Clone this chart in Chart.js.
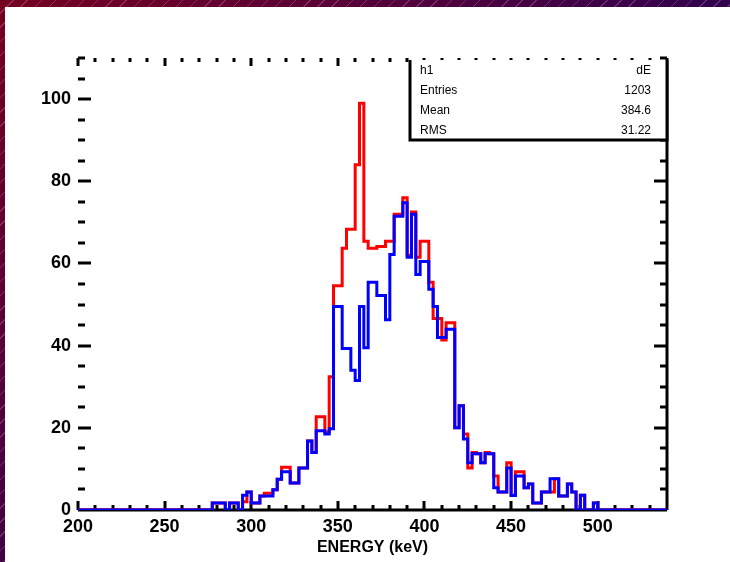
<!DOCTYPE html>
<html>
<head>
<meta charset="utf-8">
<script src="https://cdn.jsdelivr.net/npm/chart.js@4.4.1/dist/chart.umd.min.js"></script>
<style>
  body {
    margin: 0; width: 730px; height: 562px; overflow: hidden; position: relative;
    background:
      repeating-linear-gradient(135deg, rgba(0,0,0,0) 0 9px, rgba(230,140,200,0.3) 9px 10px),
      radial-gradient(circle at 0 0, #74001f 0, #580038 350px, #30004e 720px);
  }
  #frame { position: absolute; left: 5px; top: 7px; width: 725px; height: 555px; background: #fff; }
</style>
</head>
<body>
<div id="frame"><canvas id="histChart" width="725" height="555"></canvas></div>
<script>
    // 2.5-wide bins, left edges from binStart
    var binStart = 275;
    var binWidth = 2.5;
    var xRange = [200, 540];
    var yRange = [0, 110];

    var blueCounts = [
        0, 1.7, 1.7, 1.7, 0, 1.7, 1.7, 0, 3.6, 4.4,
        1.7, 1.7, 3.4, 3.4, 3.4, 4.9, 7.5, 9.3, 9.3, 6.6,
        6.6, 10.2, 10.2, 16.8, 14, 19.3, 19.3, 18.5, 19.8, 49.5,
        49.5, 39.3, 39.3, 34, 31.5, 49.5, 39.5, 55.4, 55.4, 52.2,
        52.2, 46.3, 62.2, 71.5, 71.5, 74.8, 61.5, 72, 57.3, 60.5,
        60.5, 53.7, 49.5, 42, 42, 44, 44, 20, 25.4, 17.3,
        11.5, 13.7, 13.7, 11.5, 13.7, 13.7, 5.4, 4.4, 4.4, 10.2,
        3.5, 8.3, 8.3, 5.4, 6.3, 1.7, 1.7, 4.4, 4.4, 7.6,
        7.6, 3.4, 3.4, 6.3, 4.4, 0, 3.6, 0, 0, 1.7
    ];
    var redCounts = [
        0, 1.7, 1.7, 1.7, 0, 1.7, 1.7, 0, 2.0, 4.4,
        1.7, 1.7, 3.4, 4.1, 4.1, 4.9, 7.5, 10.4, 10.4, 6.6,
        6.6, 10.2, 10.2, 16.8, 14, 22.7, 22.7, 19, 32.4, 54.6,
        54.6, 63.7, 68.3, 68.3, 84, 99, 65.4, 63.7, 63.7, 64.1,
        64.1, 65.4, 65.4, 72, 72, 76, 62, 72.5, 61.5, 65.4,
        65.4, 55.4, 46.6, 46.6, 41.4, 45.6, 45.6, 20, 25.4, 18.5,
        10.2, 14, 13.7, 11.5, 14, 13.7, 8.3, 4.4, 4.4, 11.5,
        3.6, 9.3, 9.3, 5.4, 6.3, 1.7, 1.7, 4.4, 4.4, 4.4,
        7.6, 3.4, 3.4, 6.3, 4.4, 0, 3.6, 0, 0, 1.7
    ];

    var statRows = [
        ['h1', 'dE'],
        ['Entries', '1203'],
        ['Mean', '384.6'],
        ['RMS', '31.22']
    ];

    var FONT = '"Liberation Sans", Arial, sans-serif';

    // step points: one per bin left edge, closed at the last edge, flat zero outside
    function toSteps(counts) {
        var pts = [{x: xRange[0], y: 0}];
        counts.forEach(function (c, i) { pts.push({x: binStart + i * binWidth, y: c}); });
        pts.push({x: binStart + counts.length * binWidth, y: 0});
        pts.push({x: xRange[1], y: 0});
        return pts;
    }

    // axis lines and inward ticks, ROOT style
    var frameTicks = {
        id: 'frameTicks',
        beforeDatasetsDraw: function (chart) {
            var ctx = chart.ctx, a = chart.chartArea;
            var x = chart.scales.x, y = chart.scales.y;
            ctx.save();
            ctx.strokeStyle = '#000';
            ctx.lineWidth = 3;
            ctx.beginPath();
            ctx.moveTo(a.left, a.bottom); ctx.lineTo(a.right, a.bottom);
            ctx.moveTo(a.right, a.top); ctx.lineTo(a.right, a.bottom);
            for (var v = xRange[0]; v <= xRange[1]; v += 10) {
                var px = Math.round(x.getPixelForValue(v));
                var len = v % 50 === 0 ? 9 : 5;
                ctx.moveTo(px, a.bottom); ctx.lineTo(px, a.bottom - len);
                ctx.moveTo(px, a.top); ctx.lineTo(px, a.top + len - 1);
            }
            for (var w = yRange[0] + 5; w <= yRange[1]; w += 5) {
                var py = Math.round(y.getPixelForValue(w));
                var l = w % 20 === 0 ? 13 : 7;
                ctx.moveTo(a.left, py); ctx.lineTo(a.left + l, py);
                ctx.moveTo(a.right, py); ctx.lineTo(a.right - l, py);
            }
            ctx.stroke();
            ctx.restore();
        },
        afterDraw: function (chart) {
            // statistics box in the upper right corner
            var ctx = chart.ctx, a = chart.chartArea;
            var right = a.right, top = a.top + 2, left = right - 257, bottom = top + 80;
            ctx.save();
            ctx.fillStyle = '#fff';
            ctx.fillRect(left, top, right - left, bottom - top);
            ctx.strokeStyle = '#000';
            ctx.lineWidth = 3;
            ctx.beginPath();
            ctx.moveTo(left, top); ctx.lineTo(left, bottom); ctx.lineTo(right, bottom); ctx.lineTo(right, top);
            ctx.stroke();
            ctx.fillStyle = '#000';
            ctx.font = '12px ' + FONT;
            ctx.textBaseline = 'middle';
            statRows.forEach(function (r, i) {
                var ry = top + 11 + i * 20;
                ctx.textAlign = 'left';
                ctx.fillText(r[0], left + 10, ry);
                ctx.textAlign = 'right';
                ctx.fillText(r[1], right - 16, ry);
            });
            ctx.restore();
        }
    };

    var ctx = document.getElementById('histChart').getContext('2d');

    var histChart = new Chart(ctx, {
        type: 'line',
        data: {
            datasets: [{
                label: 'blue',
                data: toSteps(blueCounts),
                borderColor: '#0000ff',
                borderWidth: 3,
                stepped: true,
                pointRadius: 0,
                fill: false
            }, {
                label: 'red',
                data: toSteps(redCounts),
                borderColor: '#ff0000',
                borderWidth: 3,
                stepped: true,
                pointRadius: 0,
                fill: false
            }]
        },
        options: {
            responsive: false,
            animation: false,
            layout: { padding: { top: 51, right: 63, left: 0, bottom: 0 } },
            plugins: { legend: { display: false }, tooltip: { enabled: false } },
            scales: {
                x: {
                    type: 'linear',
                    min: xRange[0],
                    max: xRange[1],
                    grid: { display: false, drawTicks: false },
                    border: { display: false },
                    afterFit: function (s) { s.height = 52; },
                    afterBuildTicks: function (s) {
                        s.ticks = s.ticks.filter(function (t) { return t.value % 50 === 0; });
                    },
                    ticks: {
                        stepSize: 50,
                        padding: 6,
                        color: '#000',
                        font: { family: FONT, size: 18, weight: 'bold' }
                    },
                    title: {
                        display: true,
                        text: 'ENERGY (keV)',
                        color: '#000',
                        font: { family: FONT, size: 16, weight: 'bold' },
                        padding: { top: 0, bottom: 5 }
                    }
                },
                y: {
                    min: yRange[0],
                    max: yRange[1],
                    grid: { display: false, drawTicks: false },
                    border: { display: false },
                    afterFit: function (s) { s.width = 73; },
                    afterBuildTicks: function (s) {
                        s.ticks = s.ticks.filter(function (t) { return t.value % 20 === 0; });
                    },
                    ticks: {
                        stepSize: 20,
                        padding: 7,
                        color: '#000',
                        font: { family: FONT, size: 18, weight: 'bold' }
                    }
                }
            }
        },
        plugins: [frameTicks]
    });
</script>
</body>
</html>
